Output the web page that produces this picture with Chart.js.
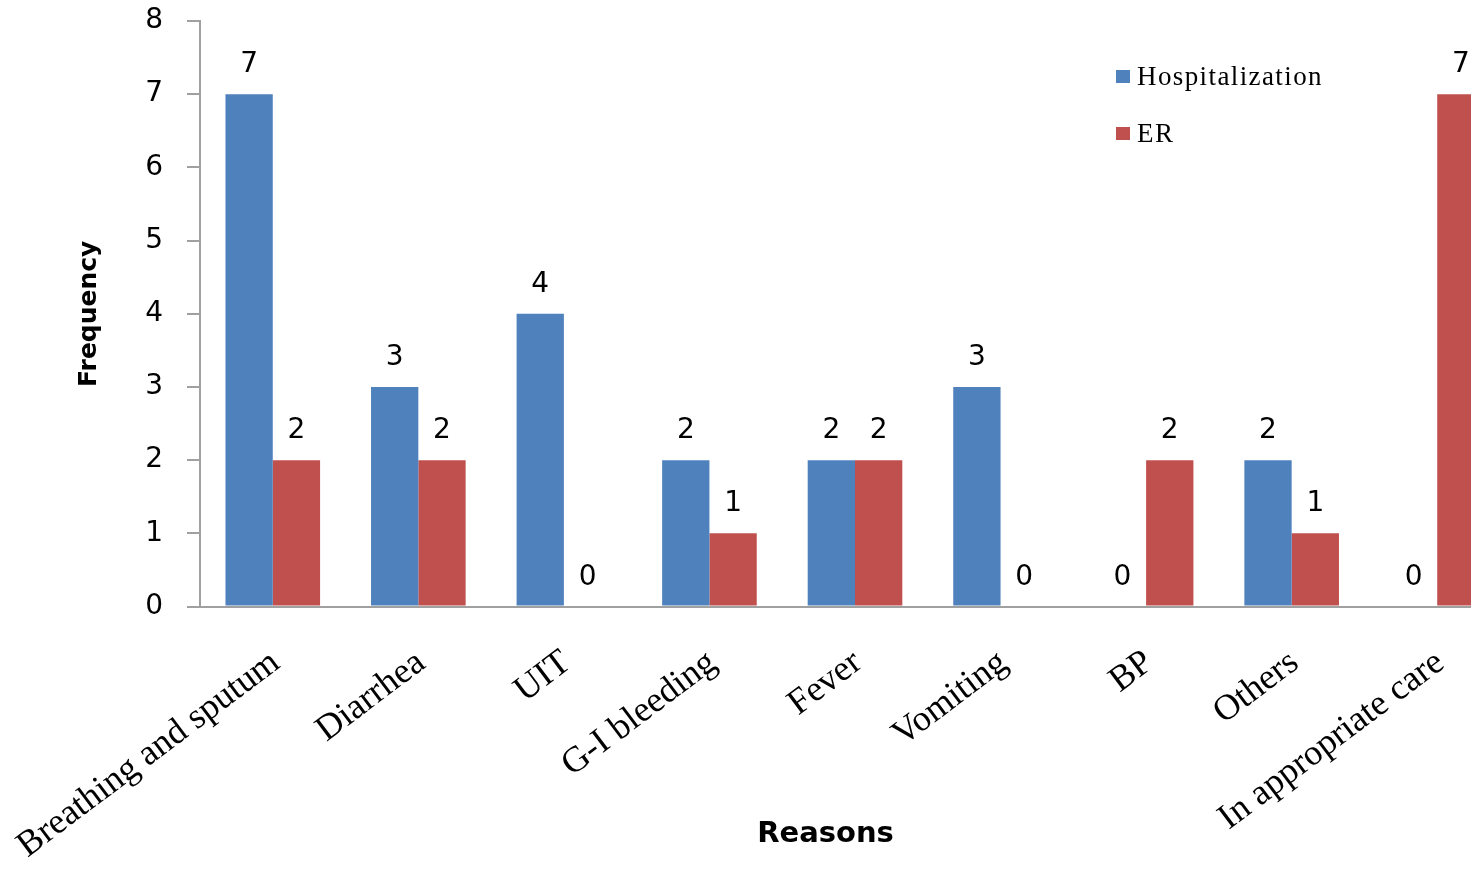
<!DOCTYPE html>
<html>
<head>
<meta charset="utf-8">
<script src="https://cdn.jsdelivr.net/npm/chart.js@4/dist/chart.umd.min.js"></script>
<style>
  html, body { margin: 0; padding: 0; background: #ffffff; overflow: hidden; }
  #wrap { position: relative; width: 1520px; height: 870px; }
</style>
</head>
<body>
<div id="wrap"><canvas id="chart" width="1520" height="870"></canvas></div>
<script>
// Reasons for hospital / ER visits
const reasons = [
  'Breathing and sputum', 'Diarrhea', 'UIT', 'G-I bleeding', 'Fever',
  'Vomiting', 'BP', 'Others', 'In appropriate care'
];
const hospitalization = [7, 3, 4, 2, 2, 3, 0, 2, 0];
const er = [2, 2, 0, 1, 2, 0, 2, 1, 7];
const yTickValues = [0, 1, 2, 3, 4, 5, 6, 7, 8];

const AXIS_GREY = '#a0a0a0';

// Value printed above every bar (zeros included)
const barValueLabels = {
  id: 'barValueLabels',
  afterDatasetsDraw(chart) {
    const ctx = chart.ctx;
    ctx.save();
    ctx.font = '28px "DejaVu Sans"';
    ctx.fillStyle = '#000';
    ctx.textAlign = 'center';
    ctx.textBaseline = 'alphabetic';
    chart.data.datasets.forEach((ds, i) => {
      chart.getDatasetMeta(i).data.forEach((bar, j) => {
        ctx.fillText(String(ds.data[j]), bar.x, bar.y - 22);
      });
    });
    ctx.restore();
  }
};

// Vertical legend in the upper right of the plot
const sideLegend = {
  id: 'sideLegend',
  afterDraw(chart, args, opts) {
    const ctx = chart.ctx;
    ctx.save();
    ctx.font = '27px "Liberation Serif"';
    if ('letterSpacing' in ctx) ctx.letterSpacing = '1.4px';
    ctx.textBaseline = 'alphabetic';
    ctx.textAlign = 'left';
    chart.data.datasets.forEach((ds, i) => {
      const y = opts.y + i * opts.gap;
      ctx.fillStyle = ds.backgroundColor;
      ctx.fillRect(opts.x, y - 15, 14, 13);
      ctx.fillStyle = '#000';
      ctx.fillText(ds.label, opts.x + 21, y);
    });
    ctx.restore();
  }
};

// Category axis title
const xAxisTitle = {
  id: 'xAxisTitle',
  afterDraw(chart, args, opts) {
    const ctx = chart.ctx;
    const ca = chart.chartArea;
    ctx.save();
    ctx.font = 'bold 29px "DejaVu Sans"';
    ctx.fillStyle = '#000';
    ctx.textAlign = 'center';
    ctx.textBaseline = 'middle';
    ctx.fillText(opts.text, ca.left + ca.width * opts.pos, opts.y);
    ctx.restore();
  }
};

// Keep the plot area fixed: no extra room reserved for overhanging tick labels
function noLabelOverhang(scale) {
  scale.paddingTop = 0;
  scale.paddingBottom = 0;
  scale.paddingLeft = 0;
  scale.paddingRight = 0;
}

new Chart(document.getElementById('chart'), {
  type: 'bar',
  data: {
    labels: reasons,
    datasets: [
      { label: 'Hospitalization', data: hospitalization, backgroundColor: '#4F81BD',
        categoryPercentage: 0.65, barPercentage: 1.0 },
      { label: 'ER', data: er, backgroundColor: '#C0504D',
        categoryPercentage: 0.65, barPercentage: 1.0 }
    ]
  },
  options: {
    responsive: false,
    animation: false,
    devicePixelRatio: 1,
    layout: { padding: { left: 0, top: 21, right: 10, bottom: 0 } },
    plugins: {
      legend: { display: false },
      tooltip: { enabled: false },
      sideLegend: { x: 1116, y: 85, gap: 57 },
      xAxisTitle: { text: 'Reasons', pos: 0.4775, y: 834 }
    },
    scales: {
      x: {
        offset: true,
        grid: { display: false, drawTicks: false },
        border: { display: true, color: AXIS_GREY, width: 2 },
        ticks: {
          autoSkip: false,
          minRotation: 37,
          maxRotation: 37,
          padding: 35,
          labelOffset: 3,
          color: '#000',
          font: { family: 'Liberation Serif', size: 36 }
        },
        afterFit(scale) { scale.height = 263.5; noLabelOverhang(scale); }
      },
      y: {
        min: 0,
        max: 8,
        afterBuildTicks(scale) { scale.ticks = yTickValues.map(v => ({ value: v })); },
        grid: { drawOnChartArea: false, drawTicks: true, tickLength: 13, color: AXIS_GREY, lineWidth: 2 },
        border: { display: true, color: AXIS_GREY, width: 2 },
        ticks: {
          padding: 24,
          color: '#000',
          font: { family: 'DejaVu Sans', size: 28 }
        },
        title: {
          display: true,
          text: 'Frequency',
          color: '#000',
          font: { family: 'DejaVu Sans', weight: 'bold', size: 25 },
          padding: { top: 74, bottom: 0 }
        },
        afterFit(scale) { scale.width = 200; noLabelOverhang(scale); }
      }
    }
  },
  plugins: [barValueLabels, sideLegend, xAxisTitle]
});
</script>
</body>
</html>
